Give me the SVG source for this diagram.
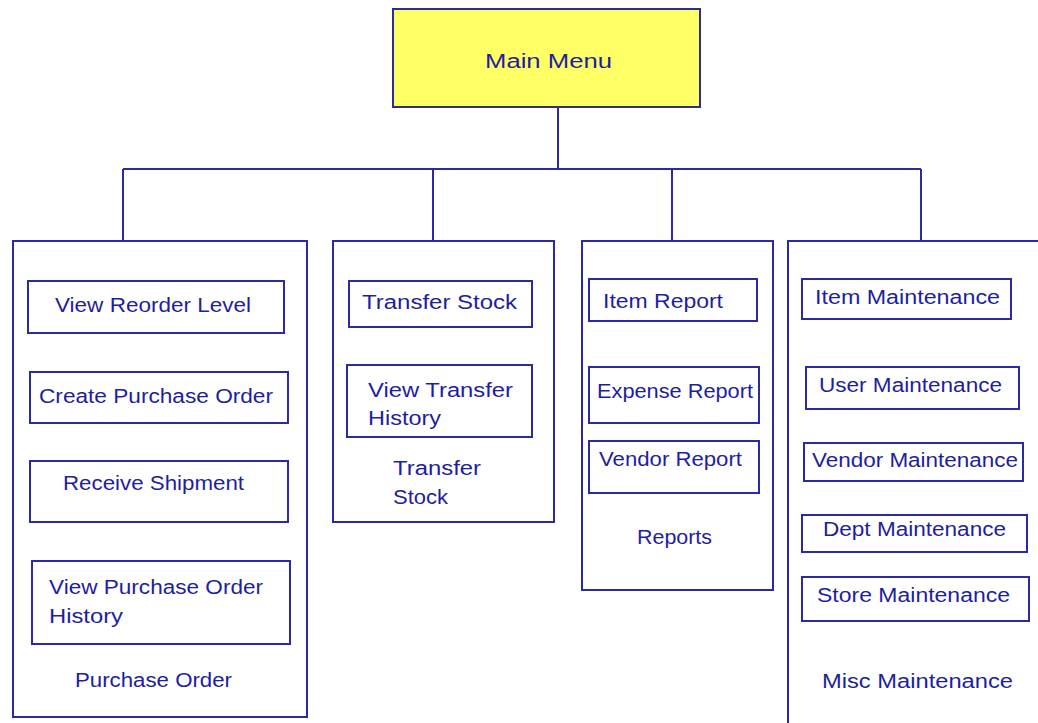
<svg xmlns="http://www.w3.org/2000/svg" width="1038" height="723" viewBox="0 0 1038 723">
<style>
.box{fill:#ffffff;stroke:#2a2aa6;stroke-width:2}
.main{fill:#ffff66;stroke:#2e2e88;stroke-width:2}
.conn{fill:none;stroke:#2a2aa6;stroke-width:2}
text{font-family:"Liberation Sans",Arial,sans-serif;font-size:20px;fill:#1e1ea0}
</style>
<rect width="1038" height="723" fill="#ffffff"/>
<g id="connectors">
<path class="conn" d="M558,107 V169 M123,169 H921 M123,169 V241 M433,169 V241 M672,169 V241 M921,169 V241"/>
</g>
<g id="main-menu">
<rect class="main" x="393" y="9" width="307" height="98"/>
<text x="485" y="68" textLength="127" lengthAdjust="spacingAndGlyphs">Main Menu</text>
</g>
<g id="purchase-order">
<rect class="box" x="13" y="241" width="294" height="476"/>
<text x="75" y="687" textLength="157" lengthAdjust="spacingAndGlyphs">Purchase Order</text>
</g>
<g id="view-reorder-level">
<rect class="box" x="28" y="281" width="256" height="52"/>
<text x="55" y="312" textLength="196" lengthAdjust="spacingAndGlyphs">View Reorder Level</text>
</g>
<g id="create-purchase-order">
<rect class="box" x="30" y="372" width="258" height="51"/>
<text x="39" y="403" textLength="234" lengthAdjust="spacingAndGlyphs">Create Purchase Order</text>
</g>
<g id="receive-shipment">
<rect class="box" x="30" y="461" width="258" height="61"/>
<text x="63" y="490" textLength="181" lengthAdjust="spacingAndGlyphs">Receive Shipment</text>
</g>
<g id="view-po-history">
<rect class="box" x="32" y="561" width="258" height="83"/>
<text x="49" y="594" textLength="214" lengthAdjust="spacingAndGlyphs">View Purchase Order</text>
<text x="49" y="623" textLength="74" lengthAdjust="spacingAndGlyphs">History</text>
</g>
<g id="transfer-stock-group">
<rect class="box" x="333" y="241" width="221" height="281"/>
<text x="393" y="475" textLength="88" lengthAdjust="spacingAndGlyphs">Transfer</text>
<text x="393" y="504" textLength="55" lengthAdjust="spacingAndGlyphs">Stock</text>
</g>
<g id="transfer-stock">
<rect class="box" x="349" y="281" width="183" height="46"/>
<text x="362" y="309" textLength="155" lengthAdjust="spacingAndGlyphs">Transfer Stock</text>
</g>
<g id="view-transfer-history">
<rect class="box" x="347" y="365" width="185" height="72"/>
<text x="368" y="397" textLength="145" lengthAdjust="spacingAndGlyphs">View Transfer</text>
<text x="368" y="425" textLength="73" lengthAdjust="spacingAndGlyphs">History</text>
</g>
<g id="reports">
<rect class="box" x="582" y="241" width="191" height="349"/>
<text x="637" y="544" textLength="75" lengthAdjust="spacingAndGlyphs">Reports</text>
</g>
<g id="item-report">
<rect class="box" x="589" y="279" width="168" height="42"/>
<text x="603" y="308" textLength="120" lengthAdjust="spacingAndGlyphs">Item Report</text>
</g>
<g id="expense-report">
<rect class="box" x="589" y="367" width="170" height="56"/>
<text x="597" y="398" textLength="156" lengthAdjust="spacingAndGlyphs">Expense Report</text>
</g>
<g id="vendor-report">
<rect class="box" x="589" y="441" width="170" height="52"/>
<text x="599" y="466" textLength="143" lengthAdjust="spacingAndGlyphs">Vendor Report</text>
</g>
<g id="misc-maintenance">
<path class="box" d="M1040,241 H788 V725"/>
<text x="822" y="688" textLength="191" lengthAdjust="spacingAndGlyphs">Misc  Maintenance</text>
</g>
<g id="item-maintenance">
<rect class="box" x="802" y="279" width="209" height="40"/>
<text x="815" y="304" textLength="185" lengthAdjust="spacingAndGlyphs">Item Maintenance</text>
</g>
<g id="user-maintenance">
<rect class="box" x="806" y="367" width="213" height="42"/>
<text x="819" y="392" textLength="183" lengthAdjust="spacingAndGlyphs">User Maintenance</text>
</g>
<g id="vendor-maintenance">
<rect class="box" x="804" y="443" width="219" height="38"/>
<text x="812" y="467" textLength="206" lengthAdjust="spacingAndGlyphs">Vendor Maintenance</text>
</g>
<g id="dept-maintenance">
<rect class="box" x="802" y="515" width="225" height="37"/>
<text x="823" y="536" textLength="183" lengthAdjust="spacingAndGlyphs">Dept Maintenance</text>
</g>
<g id="store-maintenance">
<rect class="box" x="802" y="577" width="227" height="44"/>
<text x="817" y="602" textLength="193" lengthAdjust="spacingAndGlyphs">Store Maintenance</text>
</g>
</svg>
